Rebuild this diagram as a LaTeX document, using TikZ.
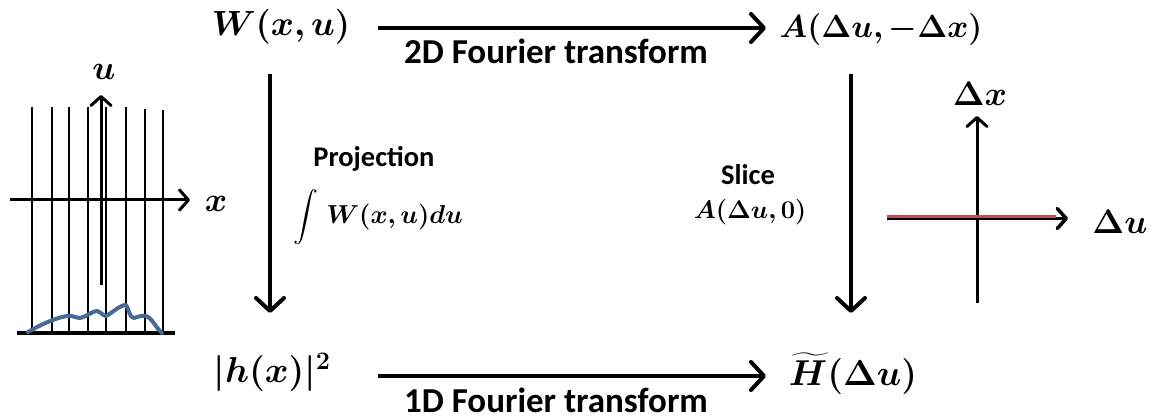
\RequirePackage{fix-cm}
\documentclass[tikz,border=0pt]{standalone}
\usepackage{amsmath,bm}
\usepackage{fontspec}
\newfontfamily\lblfont{Carlito}
\usetikzlibrary{arrows.meta}
\definecolor{curveblue}{RGB}{70,105,150}
\definecolor{slicered}{RGB}{192,80,77}
\tikzset{
  bigarrow/.style={line width=4pt,-{Straight Barb[length=13pt,width=28pt,round]}},
  axisarrow/.style={line width=3pt,-{Straight Barb[length=9pt,width=20pt,round]}},
  mathlbl/.style={inner sep=0pt,font=\fontsize{36}{42}\selectfont},
  axlbl/.style={inner sep=0pt,font=\fontsize{34}{40}\selectfont},
  smallmath/.style={inner sep=0pt,font=\fontsize{25.5}{30}\selectfont},
  txtlbl/.style={inner sep=0pt,font=\lblfont\bfseries\fontsize{35}{40}\selectfont},
  smalltxt/.style={inner sep=0pt,font=\lblfont\bfseries\fontsize{28.5}{32}\selectfont},
  gridline/.style={line width=1.5pt}
}
\begin{document}
\begin{tikzpicture}[x=1pt,y=-1pt]
\useasboundingbox (0,0) rectangle (1154,419);
% main nodes
\node[mathlbl,font=\fontsize{35}{40}\selectfont] (W) at (281,27) {$\bm{W(x,u)}$};
\node[mathlbl,font=\fontsize{32}{38}\selectfont] (A) at (881,30) {$\bm{A(\Delta u,-\Delta x)}$};
\node[mathlbl] (h) at (272,372) {$\bm{|h(x)|^2}$};
\node[mathlbl] (H) at (853,374) {$\widetilde{\bm{H}}\bm{(\Delta u)}$};
% connector endpoints
\coordinate (t1) at (378,28); \coordinate (t2) at (766,28);
\coordinate (b1) at (378,376); \coordinate (b2) at (766,376);
\coordinate (l1) at (270,74); \coordinate (l2) at (270,313);
\coordinate (r1) at (851,74); \coordinate (r2) at (851,313);
\draw[bigarrow] (t1) -- (t2);
\draw[bigarrow] (b1) -- (b2);
\draw[bigarrow] (l1) -- (l2);
\draw[bigarrow] (r1) -- (r2);
\node[txtlbl] (ft2) at (556,51) {2D Fourier transform};
\node[txtlbl] (ft1) at (556,400) {1D Fourier transform};
\node[smalltxt] (proj) at (374,159) {Projection};
\node[font=\fontsize{26}{30}\selectfont,inner sep=0pt] (int) at (378,217) {$\displaystyle\int\,\bm{W(x,u)du}$};
\node[smalltxt] (slice) at (748,175) {Slice};
\node[smallmath] (sl) at (750,212) {$\bm{A(\Delta u,0)}$};
% left graphic
\foreach \xx/\yy in {32/107,52/107,69/107,88/107,106/107,126/107,145/109,163/110}
  \draw[gridline] (\xx,\yy) -- (\xx,333);
\coordinate (u0) at (101,285); \coordinate (u1) at (101,95);
\draw[axisarrow] (u0) -- (u1);
\node[axlbl] (ulbl) at (104,72) {$\bm{u}$};
\coordinate (x0) at (10,200); \coordinate (x1) at (190,200);
\draw[axisarrow] (x0) -- (x1);
\node[axlbl] (xlbl) at (216,204) {$\bm{x}$};
\coordinate (base0) at (17,333); \coordinate (base1) at (175,333);
\draw[line width=4pt] (base0) -- (base1);
\draw[curveblue,line width=4pt,line cap=round,line join=round]
  (28,332) .. controls (40,325) and (55,318) .. (67,316)
  .. controls (72,315) and (76,318) .. (80,318)
  .. controls (86,317) and (92,311) .. (97,311)
  .. controls (101,312) and (103,316) .. (106,316)
  .. controls (112,313) and (120,305) .. (126,305)
  .. controls (129,308) and (129,318) .. (134,318)
  .. controls (138,317) and (142,315) .. (146,316)
  .. controls (152,318) and (156,328) .. (162,333);
% right graphic
\coordinate (dx0) at (977,303); \coordinate (dx1) at (977,116);
\draw[axisarrow] (dx0) -- (dx1);
\node[axlbl] (dxlbl) at (980,94) {$\bm{\Delta x}$};
\coordinate (du0) at (887,218.5); \coordinate (du1) at (1068,218.5);
\draw[axisarrow,line width=3.5pt] (du0) -- (du1);
\coordinate (rs0) at (887,216.5); \coordinate (rs1) at (1056,216.5);
\draw[slicered,line width=3pt] (rs0) -- (rs1);
\node[axlbl] (dulbl) at (1120,222) {$\bm{\Delta u}$};
\end{tikzpicture}
\end{document}
